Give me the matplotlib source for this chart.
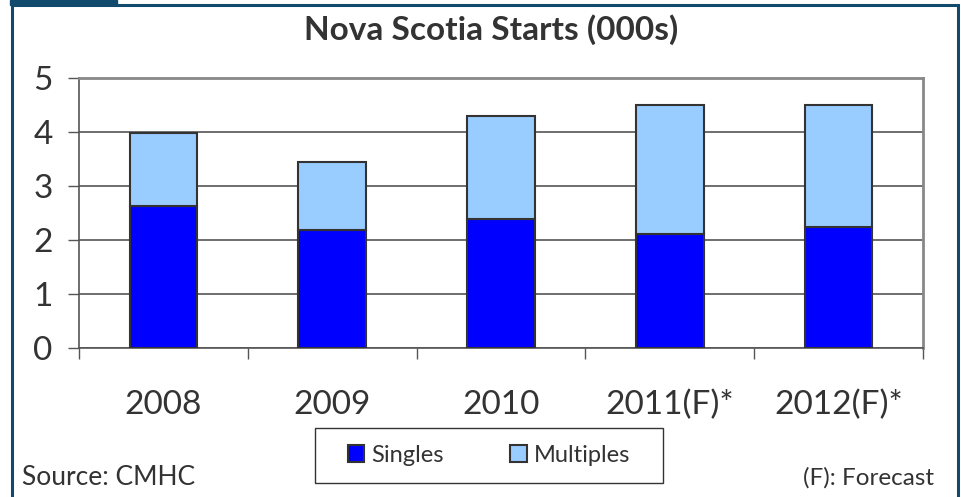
import numpy as np
import matplotlib
matplotlib.use('Agg')
from matplotlib import pyplot as plt
from matplotlib.patches import Rectangle

plt.rcParams['font.family'] = ['Lato', 'DejaVu Sans']

# du lieu doc tu hinh
years = ['2008', '2009', '2010', '2011(F)*', '2012(F)*']
singles = [2.64, 2.19, 2.40, 2.11, 2.24]
totals = [3.98, 3.45, 4.31, 4.51, 4.51]
multiples = [t - s for t, s in zip(totals, singles)]

W, H = 962, 497
fig = plt.figure(figsize=(W / 100, H / 100), dpi=100)

frame_col = '#124a6e'
txt_col = '#333333'

ax = fig.add_axes([79 / W, 1 - 348.3 / H, (923 - 79) / W, (348.3 - 78.3) / H])
x = np.arange(len(years))
ax.bar(x, singles, width=0.4, color='#0000ff', edgecolor='#333333', linewidth=1.5,
       label='Singles', zorder=3)
ax.bar(x, multiples, width=0.4, bottom=singles, color='#99ccff', edgecolor='#333333',
       linewidth=1.5, label='Multiples', zorder=3)

ax.set_xlim(-0.5, len(years) - 0.5)
ax.set_ylim(0, 5)
ax.set_yticks(range(6))
ax.grid(axis='y', color='#555555', linewidth=1.2, zorder=0)

ax.set_xticks(np.arange(len(years) + 1) - 0.5)
ax.set_xticklabels([])
ax.set_xticks(x, minor=True)
ax.set_xticklabels(years, minor=True, fontsize=24, color=txt_col)
ax.tick_params(axis='x', which='minor', length=0, pad=30)
ax.tick_params(axis='x', which='major', direction='out', length=8, width=1, color='#555555')
ax.tick_params(axis='y', direction='out', length=8, width=1, color='#555555',
               labelsize=24, labelcolor=txt_col, pad=11)

for s in ['left', 'bottom']:
    ax.spines[s].set_color('#555555')
    ax.spines[s].set_linewidth(1.2)
for s in ['top', 'right']:
    ax.spines[s].set_color('#888888')
    ax.spines[s].set_linewidth(2)

fig.text(491 / W, 1 - 40 / H, 'Nova Scotia Starts (000s)', ha='center', va='baseline',
         fontsize=24, fontweight='bold', color=txt_col)
fig.text(22 / W, 1 - 485 / H, 'Source: CMHC', ha='left', va='baseline',
         fontsize=19, color=txt_col)
fig.text(934 / W, 1 - 485 / H, '(F): Forecast', ha='right', va='baseline',
         fontsize=17.5, color=txt_col)

leg = fig.legend(loc='center', bbox_to_anchor=(489 / W, 1 - 455.5 / H), ncol=2,
                 fontsize=17, frameon=False, handlelength=0.7,
                 handleheight=0.7, handletextpad=0.3, columnspacing=2.8,
                 labelcolor=txt_col)
# khung cua chu thich
fig.patches.append(Rectangle((315 / W, 1 - 483 / H), 348 / W, 55 / H,
                             transform=fig.transFigure, fill=False,
                             edgecolor='#333333', linewidth=1))

# khung vien xanh dam
fig.patches.append(Rectangle((11.5 / W, -0.1), (958.5 - 11.5) / W, 1.1 - 4.5 / H,
                             transform=fig.transFigure, fill=False,
                             edgecolor=frame_col, linewidth=2.2))
fig.patches.append(Rectangle((10 / W, 1 - 5 / H), 107 / W, 5 / H,
                             transform=fig.transFigure, color=frame_col))

plt.savefig('out.png', dpi=100)
